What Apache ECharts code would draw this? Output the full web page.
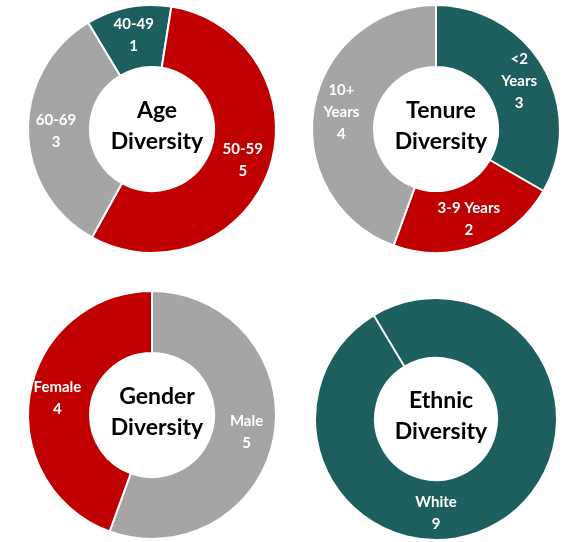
<!DOCTYPE html>
<html>
<head>
<meta charset="utf-8">
<script src="https://cdn.jsdelivr.net/npm/echarts@6/dist/echarts.min.js"></script>
<style>
	html, body { margin: 0; padding: 0; background: #fff; }
	#diversityDonuts { width: 575px; height: 542px; }
</style>
</head>
<body>
<div id="diversityDonuts"></div>
<script>
	// chart data
	const ageNames = ['40-49', '50-59', '60-69'];
	const ageValues = [1, 5, 3];
	const tenureNames = ['<2\nYears', '3-9 Years', '10+\nYears'];
	const tenureValues = [3, 2, 4];
	const genderNames = ['Male', 'Female'];
	const genderValues = [5, 4];
	const ethnicNames = ['White', 'Other'];
	const ethnicValues = [9, 0];
	const titles = ['Age\nDiversity', 'Tenure\nDiversity', 'Gender\nDiversity', 'Ethnic\nDiversity'];

	const teal = '#1D5F5F';
	const red = '#C00000';
	const grey = '#A5A5A5';
	const font = 'Lato, "Open Sans", sans-serif';

	function toData(names, values, colors) {
		return names.map((name, i) => {
			return {
				name: name,
				value: values[i],
				itemStyle: { color: colors[i] }
			}
		});
	}

	function donut(center, radius, data, startAngle) {
		return {
			type: 'pie',
			center: center,
			radius: radius,
			startAngle: startAngle,
			clockwise: true,
			silent: true,
			animation: false,
			avoidLabelOverlap: false,
			itemStyle: {
				borderColor: '#fff',
				borderWidth: 2
			},
			label: {
				show: true,
				position: 'inside',
				color: '#fff',
				fontFamily: font,
				fontWeight: 'bold',
				fontSize: 15,
				lineHeight: 22,
				formatter: '{b}\n{c}'
			},
			labelLine: { show: false },
			data: data
		}
	}

	// text block in the hole of a donut, x/y is the hole centre
	function centerTitle(text, x, y) {
		return {
			text: text,
			left: x,
			top: y - 39,
			textAlign: 'center',
			textStyle: {
				color: '#000',
				fontFamily: font,
				fontWeight: 'bold',
				fontSize: 23,
				lineHeight: 31
			}
		}
	}

	let myChart = echarts.init(document.getElementById('diversityDonuts'));

	let ethnicData = toData(ethnicNames, ethnicValues, [teal, teal]);
	ethnicData.forEach((item) => {
		item.label = { show: false };
	});

	// transparent copy, only used to put the label at the bottom of the ring
	let ethnicLabels = toData(ethnicNames, ethnicValues, ['rgba(0,0,0,0)', 'rgba(0,0,0,0)']);
	ethnicLabels[1].label = { show: false };
	let ethnicLabelSeries = donut([436, 419], [61, 121], ethnicLabels, 90);
	ethnicLabelSeries.itemStyle = { borderWidth: 0 };

	const option = {
		backgroundColor: '#fff',
		title: [
			centerTitle(titles[0], 152, 129),
			centerTitle(titles[1], 436, 129),
			centerTitle(titles[2], 152, 415),
			centerTitle(titles[3], 436, 419)
		],
		series: [
			donut([152, 129], [62, 124], toData(ageNames, ageValues, [teal, red, grey]), 121),
			donut([436, 129], [62, 124], toData(tenureNames, tenureValues, [teal, red, grey]), 90),
			donut([152, 415], [62, 124], toData(genderNames, genderValues, [grey, red]), 90),
			donut([436, 419], [61, 121], ethnicData, 121),
			ethnicLabelSeries
		]
	};
	myChart.setOption(option);
</script>
</body>
</html>
